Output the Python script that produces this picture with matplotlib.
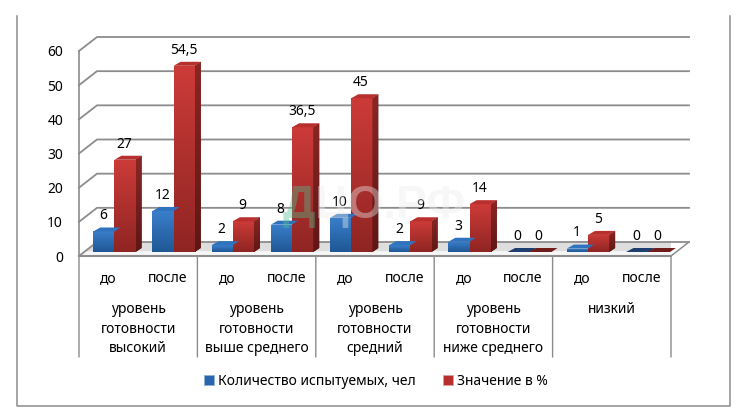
import numpy as np
import matplotlib
matplotlib.use('Agg')
import matplotlib.pyplot as plt
from matplotlib.patches import Polygon, Patch

plt.rcParams['font.family'] = ['Noto Sans', 'DejaVu Sans']

# data
stages = ['до', 'после'] * 5
groups = ['уровень\nготовности\nвысокий', 'уровень\nготовности\nвыше среднего',
          'уровень\nготовности\nсредний', 'уровень\nготовности\nниже среднего', 'низкий']
count_vals = [6, 12, 2, 8, 10, 2, 3, 0, 1, 0]
pct_vals = [27, 54.5, 9, 36.5, 45, 9, 14, 0, 5, 0]
pct_labels = ['27', '54,5', '9', '36,5', '45', '9', '14', '0', '5', '0']
yticks = [0, 10, 20, 30, 40, 50, 60]

W, H = 739, 411
FS = 10
fig = plt.figure(figsize=(W / 100, H / 100), dpi=100, facecolor='white')
ax = fig.add_axes([79 / W, (H - 256) / H, (671 - 79) / W, (256 - 51) / H])
ax.set_xlim(0, 10)
ax.set_ylim(0, 60)
ax.patch.set_visible(False)
for s in ax.spines.values():
    s.set_visible(False)

px_x = 10 / 592.0   # one pixel in data units
px_y = 60 / 205.0
GRID = '#8c8c8c'
depth_x, depth_y = 18 * px_x, 14 * px_y
base = 4 * px_y
bar_w = 21.2 * px_x
side_x, side_y = 6 * px_x, 4 * px_y


def grad(top, bottom):
    top, bottom = matplotlib.colors.to_rgb(top), matplotlib.colors.to_rgb(bottom)
    t = np.linspace(0, 1, 64)[:, None, None]
    return t * np.array(bottom)[None, None, :] + (1 - t) * np.array(top)[None, None, :]


def draw_bar(x, v, front_top, front_bot, side_top, side_bot, cap, flat):
    y0 = base
    y1 = base + v
    if v == 0:
        ax.add_patch(Polygon([(x, y0), (x + bar_w + 1.5 * px_x, y0),
                              (x + bar_w + 1.5 * px_x + side_x, y0 + side_y), (x + side_x + 1.5 * px_x, y0 + side_y)],
                             closed=True, fc=flat, ec='none', zorder=3, clip_on=False))
        return
    bar = ax.bar(x, v, bar_w, bottom=y0, align='edge', color=front_bot, linewidth=0, zorder=3)[0]
    im = ax.imshow(grad(front_top, front_bot), extent=(x, x + bar_w, y0, y1), aspect='auto', zorder=3.1)
    im.set_clip_path(bar)
    side = Polygon([(x + bar_w, y0), (x + bar_w + side_x, y0 + side_y),
                    (x + bar_w + side_x, y1 + side_y), (x + bar_w, y1)],
                   closed=True, fc=side_bot, ec='none', zorder=3)
    ax.add_patch(side)
    im2 = ax.imshow(grad(side_top, side_bot), extent=(x + bar_w, x + bar_w + side_x, y0, y1 + side_y),
                    aspect='auto', zorder=3.1)
    im2.set_clip_path(side)
    ax.add_patch(Polygon([(x, y1), (x + bar_w, y1), (x + bar_w + side_x, y1 + side_y),
                          (x + side_x + 1 * px_x, y1 + side_y)],
                         closed=True, fc=cap, ec='none', zorder=3.2, clip_on=False))


# walls and floor
ax.add_patch(Polygon([(0, 0), (depth_x, depth_y), (10 + depth_x, depth_y), (10, 0)], closed=True,
                     fc='#dedede', ec='none', zorder=1))
ax.add_patch(Polygon([(0, 0), (depth_x * 0.35, depth_y * 0.35), (10 + depth_x * 0.35, depth_y * 0.35), (10, 0)],
                     closed=True, fc='#f6f6f6', ec='none', zorder=1.1))
for t in yticks:
    ax.plot([0, depth_x, 10 + depth_x], [t, t + depth_y, t + depth_y], color=GRID, lw=1.3, zorder=2,
            solid_joinstyle='miter', clip_on=False)
ax.plot([10, 10 + depth_x], [0, depth_y], color=GRID, lw=1.1, zorder=2, clip_on=False)
ax.plot([0, 10], [0, 0], color=GRID, lw=1.5, zorder=2, clip_on=False)
ax.plot([0, 0], [0, 60], color=GRID, lw=1.2, zorder=2, clip_on=False)

# separators below the axis
for i in range(6):
    ax.annotate('', xy=(i * 2, 0), xytext=(i * 2, -101 * px_y), arrowprops=dict(arrowstyle='-', color=GRID, lw=1.0,
                shrinkA=0, shrinkB=0), annotation_clip=False)

for i in range(10):
    draw_bar(i + 0.24, count_vals[i], '#3a7fcb', '#1f5795', '#2a5f9e', '#153a66', '#2f72bd', '#1f3f70')
    draw_bar(i + 0.24 + bar_w, pct_vals[i], '#cc3b38', '#8f2523', '#8a2624', '#5e1715', '#b8302e', '#701c1a')
    ax.annotate(str(count_vals[i]), (i + 0.24 + bar_w / 2, base + count_vals[i] + side_y), xytext=(-0.5, 3),
                textcoords='offset points', ha='center', va='bottom', fontsize=FS, color='black', zorder=5,
                annotation_clip=False)
    ax.annotate(pct_labels[i], (i + 0.24 + 1.5 * bar_w, base + pct_vals[i] + side_y), xytext=(-0.5, 3),
                textcoords='offset points', ha='center', va='bottom', fontsize=FS, color='black', zorder=5,
                annotation_clip=False)

ax.set_xlim(0, 10)
ax.set_ylim(0, 60)
ax.set_yticks(yticks)
ax.set_xticks(np.arange(10) + 0.5)
ax.set_xticklabels(stages)
ax.tick_params(axis='both', length=0, labelsize=FS, labelcolor='black')
ax.tick_params(axis='y', pad=11.5)
ax.tick_params(axis='x', pad=10.5)

for i, g in enumerate(groups):
    ax.annotate(g, (i * 2 + 1, 0), xytext=(0, -33), textcoords='offset points', ha='center', va='top',
                fontsize=FS, linespacing=1.43, color='black', annotation_clip=False)

# outer frame
fig.add_artist(plt.Line2D([16.5 / W, 16.5 / W, 729.5 / W, 729.5 / W],
                          [(H - 16) / H, (H - 406) / H, (H - 406) / H, (H - 16) / H], color=GRID, lw=1.1))

# legend
fig.legend(handles=[Patch(fc='#2a66ad', ec='#8fb0d8', lw=0.6), Patch(fc='#b8302e', ec='#d9a0a0', lw=0.6)],
           labels=['Количество испытуемых, чел', 'Значение в %'], ncol=2, frameon=False,
           loc='center', bbox_to_anchor=(376 / W, (H - 381.5) / H), fontsize=FS,
           handlelength=0.72, handleheight=0.72, handletextpad=0.3, columnspacing=1.95, borderpad=0)

# watermark
fig.text(283 / W, (H - 218) / H, 'Д', fontsize=33, fontweight='bold', family='Liberation Sans', color='#4fc08d',
         alpha=0.4, ha='left', va='baseline', zorder=6)
fig.text(315 / W, (H - 218) / H, 'ЦО.РФ', fontsize=33, fontweight='bold', family='Liberation Sans', color='#ececec',
         alpha=0.4, ha='left', va='baseline', zorder=6)

fig.savefig('out.png', dpi=100)
